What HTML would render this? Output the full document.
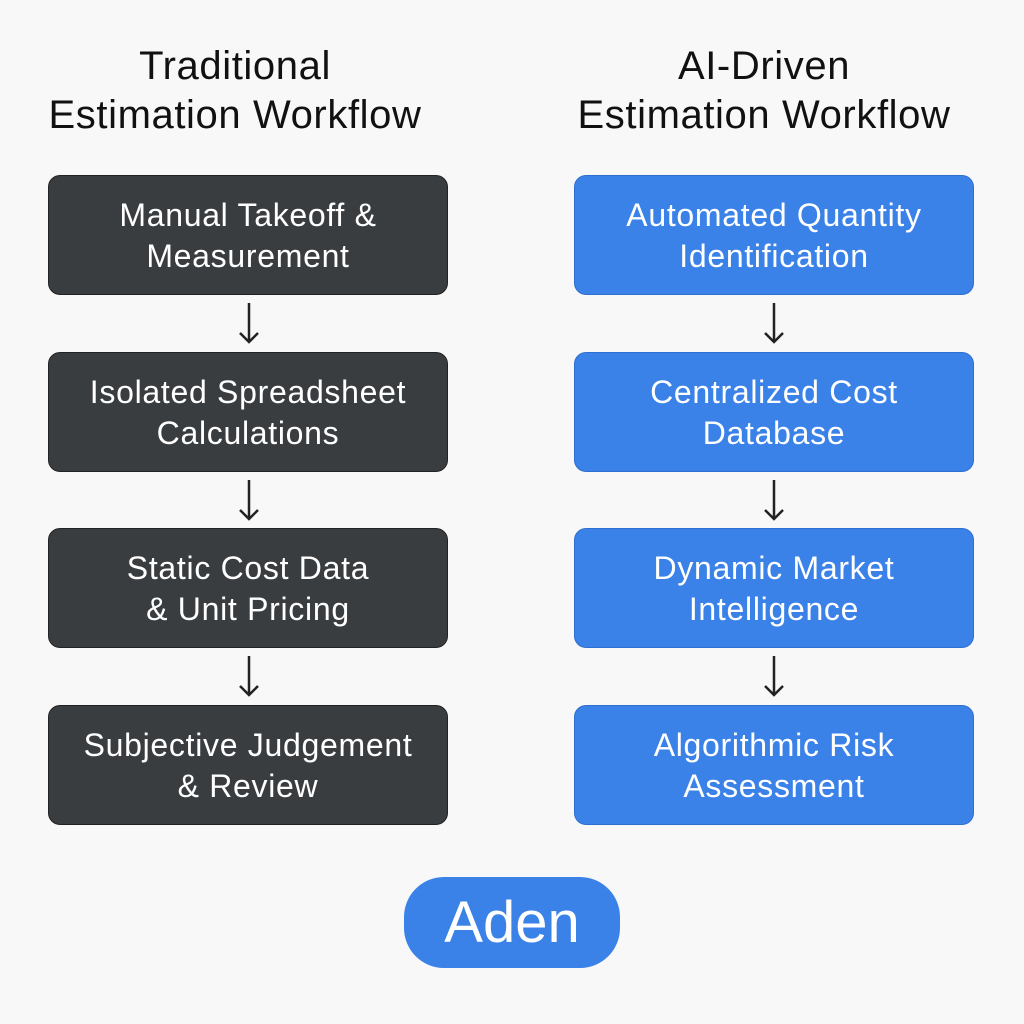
<!DOCTYPE html>
<html><head><style>
body{margin:0;width:1024px;height:1024px;background:#f8f8f8;position:relative;font-family:"Liberation Sans",sans-serif;overflow:hidden}
.t{position:absolute;width:560px;text-align:center;font-size:40px;letter-spacing:0.6px;line-height:49px;color:#111;top:42px}
.b{position:absolute;width:400px;height:120px;border-radius:12px;color:#fff;font-size:32px;letter-spacing:0.7px;line-height:41px;display:flex;align-items:center;justify-content:center;text-align:center;box-sizing:border-box;padding-top:2px}
.d{background:#3a3d40;left:48px;border:1px solid #222}
.u{background:#3a82e8;left:574px;border:1px solid #2f6fd0}
.p{position:absolute;left:404px;top:877px;width:216px;height:91px;border-radius:40px;background:#3a82e8;color:#fff;font-size:58px;display:flex;align-items:center;justify-content:center}
</style></head><body>
<div class="t" style="left:-45px">Traditional<br>Estimation Workflow</div>
<div class="t" style="left:484px">AI-Driven<br>Estimation Workflow</div>

<div class="b d" style="top:175px">Manual Takeoff &amp;<br>Measurement</div>
<div class="b d" style="top:352px">Isolated Spreadsheet<br>Calculations</div>
<div class="b d" style="top:528px">Static Cost Data<br>&amp; Unit Pricing</div>
<div class="b d" style="top:705px">Subjective Judgement<br>&amp; Review</div>

<div class="b u" style="top:175px">Automated Quantity<br>Identification</div>
<div class="b u" style="top:352px">Centralized Cost<br>Database</div>
<div class="b u" style="top:528px">Dynamic Market<br>Intelligence</div>
<div class="b u" style="top:705px">Algorithmic Risk<br>Assessment</div>

<svg width="1024" height="1024" style="position:absolute;left:0;top:0" fill="none" stroke="#222" stroke-width="2.5">
<g id="ar"><path d="M249 303V342M240 333L249 342L258 333"/></g>
<use href="#ar" y="177"/><use href="#ar" y="353"/>
<use href="#ar" x="525"/><use href="#ar" x="525" y="177"/><use href="#ar" x="525" y="353"/>
</svg>

<div class="p">Aden</div>
</body></html>
